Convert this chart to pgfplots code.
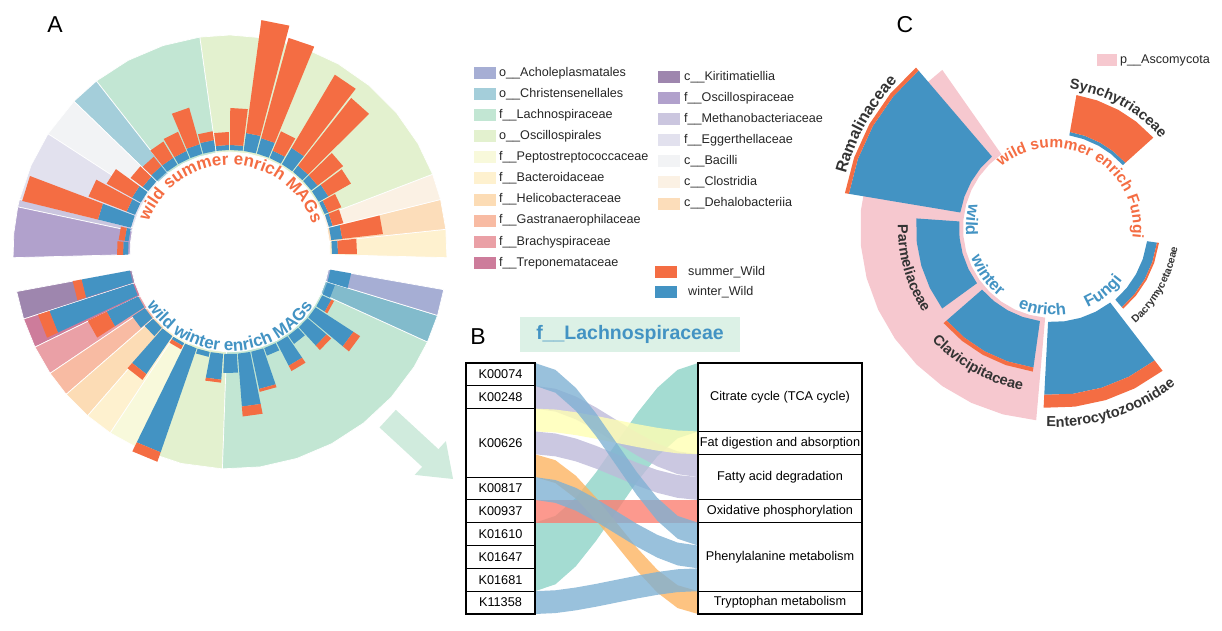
\documentclass[border=0pt]{standalone}
\usepackage{pgfplots}
\pgfplotsset{compat=1.18}
\usepackage{fontspec}
\setmainfont{Liberation Sans}
\usetikzlibrary{decorations.text}

\definecolor{sor}{HTML}{F46D43}
\definecolor{wbl}{HTML}{4393C3}
\definecolor{cAch}{HTML}{A6AED4}
\definecolor{cChr}{HTML}{A4CEDA}
\definecolor{cChrW}{HTML}{82BBCC}
\definecolor{cLac}{HTML}{C2E6D3}
\definecolor{cOsl}{HTML}{E3F1CF}
\definecolor{cPep}{HTML}{F8F9DB}
\definecolor{cBac}{HTML}{FEF1CF}
\definecolor{cHel}{HTML}{FCDCB5}
\definecolor{cGas}{HTML}{F8BBA3}
\definecolor{cBra}{HTML}{EAA0A6}
\definecolor{cTre}{HTML}{CD7C9B}
\definecolor{cKir}{HTML}{9E86AE}
\definecolor{cOsc}{HTML}{B1A1CC}
\definecolor{cMet}{HTML}{CBC6DF}
\definecolor{cEgg}{HTML}{E2E1EE}
\definecolor{cBci}{HTML}{F2F3F5}
\definecolor{cClo}{HTML}{FBF1E4}
\definecolor{cDeh}{HTML}{FCDDBA}
\definecolor{cAsc}{HTML}{F6C8CF}
\definecolor{dark}{HTML}{333333}
\definecolor{fBlue}{HTML}{80B1D3}
\definecolor{fLav}{HTML}{BEBADA}
\definecolor{fYel}{HTML}{FFFFB3}
\definecolor{fOra}{HTML}{FDB462}
\definecolor{fRed}{HTML}{FB8072}
\definecolor{fTeal}{HTML}{8DD3C7}
\definecolor{titlebg}{HTML}{DCF1E6}
\definecolor{arrowc}{HTML}{D0EBDD}

\newcommand\fs[1]{\fontsize{#1}{#1}\selectfont}
% curved label: cx, cy, radius, start angle, end angle, colour, size, text
\newcommand\arctext[8]{%
  \path[decorate, decoration={text along path, text align=center, text color=#6,
    text={|\fs{#7}\bfseries|#8}}] (#1,#2) ++(#4:#3) arc[start angle=#4, end angle=#5, radius=#3pt];}

\pgfplotsset{
  sec/.style={data cs=polar, fill=#1, draw=white, line width=0.7pt},
  bb/.style={data cs=polar, fill=wbl, draw=none},
  bo/.style={data cs=polar, fill=sor, draw=none},
  flow/.style={fill=#1, fill opacity=0.8, draw=none},
  box/.style={fill=white, draw=black, line width=1.1pt},
}

\begin{document}
\begin{tikzpicture}[x=1pt, y=1pt]
\useasboundingbox (0,0) rectangle (1222,631);

% ---------------- Panel A ----------------
\begin{axis}[hide axis, scale only axis, clip=false, anchor=center, at={(230pt,379pt)},
  xmin=-250, xmax=250, ymin=-250, ymax=250, width=500pt, height=500pt]
% summer sectors
\addplot[sec=cBac] coordinates {(-1.5,100)(-1.5,217)(6,217)(6,100)} -- cycle;
\addplot[sec=cDeh] coordinates {(6,100)(6,217)(14,217)(14,100)} -- cycle;
\addplot[sec=cClo] coordinates {(14,100)(14,217)(21,217)(21,100)} -- cycle;
\addplot[sec=cOsl] coordinates {(21,100)(21,217)(30,217)(40,217)(50,217)(60,217)(70,217)(80,217)(90,217)(98,217)(98,100)(90,100)(80,100)(70,100)(60,100)(50,100)(40,100)(30,100)} -- cycle;
\addplot[sec=cLac] coordinates {(98,100)(98,217)(108,217)(118,217)(128,217)(128,100)(118,100)(108,100)} -- cycle;
\addplot[sec=cChr] coordinates {(128,100)(128,217)(136,217)(136,100)} -- cycle;
\addplot[sec=cBci] coordinates {(136,100)(136,217)(147,217)(147,100)} -- cycle;
\addplot[sec=cEgg] coordinates {(147,100)(147,217)(156.5,217)(166,217)(166,100)(156.5,100)} -- cycle;
\addplot[sec=cMet] coordinates {(166,100)(166,217)(168,217)(168,100)} -- cycle;
\addplot[sec=cOsc] coordinates {(168,100)(168,217)(175,217)(181.5,217)(181.5,100)(175,100)} -- cycle;
% winter sectors
\addplot[sec=cKir] coordinates {(190.5,100)(190.5,217)(198,217)(198,100)} -- cycle;
\addplot[sec=cTre] coordinates {(198,100)(198,217)(206,217)(206,100)} -- cycle;
\addplot[sec=cBra] coordinates {(206,100)(206,217)(214,217)(214,100)} -- cycle;
\addplot[sec=cGas] coordinates {(214,100)(214,217)(221,217)(221,100)} -- cycle;
\addplot[sec=cHel] coordinates {(221,100)(221,217)(229,217)(229,100)} -- cycle;
\addplot[sec=cBac] coordinates {(229,100)(229,217)(236.5,217)(236.5,100)} -- cycle;
\addplot[sec=cPep] coordinates {(236.5,100)(236.5,217)(246,217)(246,100)} -- cycle;
\addplot[sec=cOsl] coordinates {(246,100)(246,217)(257,217)(268,217)(268,100)(257,100)} -- cycle;
\addplot[sec=cLac] coordinates {(268,100)(268,217)(278,217)(288,217)(298,217)(308,217)(318,217)(328,217)(335.5,217)(335.5,100)(328,100)(318,100)(308,100)(298,100)(288,100)(278,100)} -- cycle;
\addplot[sec=cChrW] coordinates {(335.5,100)(335.5,217)(343,217)(343,100)} -- cycle;
\addplot[sec=cAch] coordinates {(343,100)(343,217)(350,217)(350,100)} -- cycle;
% summer-enriched MAGs: winter part (blue) then summer part (orange)
\addplot[bb] coordinates {(174.5,102)(174.5,107)(181.5,107)(181.5,102)};
\addplot[bo] coordinates {(174.5,107)(174.5,113)(181.5,113)(181.5,107)};
\addplot[bb] coordinates {(166.9,102)(166.9,106)(173.9,106)(173.9,102)};
\addplot[bo] coordinates {(166.9,106)(166.9,112)(173.9,112)(173.9,106)};
\addplot[bb] coordinates {(159.2,102)(159.2,136)(166.2,136)(166.2,102)};
\addplot[bo] coordinates {(159.2,136)(159.2,214)(166.2,214)(166.2,136)};
\addplot[bb] coordinates {(151.6,102)(151.6,111)(158.6,111)(158.6,102)};
\addplot[bo] coordinates {(151.6,111)(151.6,152)(158.6,152)(158.6,111)};
\addplot[bb] coordinates {(144,102)(144,112)(151,112)(151,102)};
\addplot[bo] coordinates {(144,112)(144,141)(151,141)(151,112)};
\addplot[bb] coordinates {(136.3,102)(136.3,109)(143.3,109)(143.3,102)};
\addplot[bo] coordinates {(136.3,109)(136.3,124)(143.3,124)(143.3,109)};
\addplot[bb] coordinates {(128.7,102)(128.7,110)(135.7,110)(135.7,102)};
\addplot[bo] coordinates {(128.7,110)(128.7,122)(135.7,122)(135.7,110)};
\addplot[bb] coordinates {(121.1,102)(121.1,110)(128.1,110)(128.1,102)};
\addplot[bo] coordinates {(121.1,110)(121.1,129)(128.1,129)(128.1,110)};
\addplot[bb] coordinates {(113.4,102)(113.4,110)(120.4,110)(120.4,102)};
\addplot[bo] coordinates {(113.4,110)(113.4,131)(120.4,131)(120.4,110)};
\addplot[bb] coordinates {(105.8,102)(105.8,112)(112.8,112)(112.8,102)};
\addplot[bo] coordinates {(105.8,112)(105.8,150)(112.8,150)(112.8,112)};
\addplot[bb] coordinates {(98.2,102)(98.2,113)(105.2,113)(105.2,102)};
\addplot[bo] coordinates {(98.2,113)(98.2,122)(105.2,122)(105.2,113)};
\addplot[bb] coordinates {(90.6,102)(90.6,107)(97.6,107)(97.6,102)};
\addplot[bo] coordinates {(90.6,107)(90.6,120)(97.6,120)(97.6,107)};
\addplot[bb] coordinates {(82.9,102)(82.9,107)(89.9,107)(89.9,102)};
\addplot[bo] coordinates {(82.9,107)(82.9,144)(89.9,144)(89.9,107)};
\addplot[bb] coordinates {(75.3,102)(75.3,120)(82.3,120)(82.3,102)};
\addplot[bo] coordinates {(75.3,120)(75.3,234)(82.3,234)(82.3,120)};
\addplot[bb] coordinates {(67.7,102)(67.7,118)(74.7,118)(74.7,102)};
\addplot[bo] coordinates {(67.7,118)(67.7,222)(74.7,222)(74.7,118)};
\addplot[bb] coordinates {(60.1,102)(60.1,110)(67.1,110)(67.1,102)};
\addplot[bo] coordinates {(60.1,110)(60.1,131)(67.1,131)(67.1,110)};
\addplot[bb] coordinates {(52.4,102)(52.4,121)(59.4,121)(59.4,102)};
\addplot[bo] coordinates {(52.4,121)(52.4,206)(59.4,206)(59.4,121)};
\addplot[bb] coordinates {(44.8,102)(44.8,110)(51.8,110)(51.8,102)};
\addplot[bo] coordinates {(44.8,110)(44.8,196)(51.8,196)(51.8,110)};
\addplot[bb] coordinates {(37.2,102)(37.2,110)(44.2,110)(44.2,102)};
\addplot[bo] coordinates {(37.2,110)(37.2,142)(44.2,142)(44.2,110)};
\addplot[bb] coordinates {(29.5,102)(29.5,113)(36.5,113)(36.5,102)};
\addplot[bo] coordinates {(29.5,113)(29.5,139)(36.5,139)(36.5,113)};
\addplot[bb] coordinates {(21.9,102)(21.9,106)(28.9,106)(28.9,102)};
\addplot[bo] coordinates {(21.9,106)(21.9,120)(28.9,120)(28.9,106)};
\addplot[bb] coordinates {(14.3,102)(14.3,106)(21.3,106)(21.3,102)};
\addplot[bo] coordinates {(14.3,106)(14.3,117)(21.3,117)(21.3,106)};
\addplot[bb] coordinates {(6.7,102)(6.7,113)(13.7,113)(13.7,102)};
\addplot[bo] coordinates {(6.7,113)(6.7,154)(13.7,154)(13.7,113)};
\addplot[bb] coordinates {(-1,102)(-1,108)(6,108)(6,102)};
\addplot[bo] coordinates {(-1,108)(-1,127)(6,127)(6,108)};
% winter-enriched MAGs
\addplot[bb] coordinates {(190.5,102)(190.5,151)(197.5,151)(197.5,102)};
\addplot[bo] coordinates {(190.5,151)(190.5,160)(197.5,160)(197.5,151)};
\addplot[bb] coordinates {(198.1,102)(198.1,190)(205.1,190)(205.1,102)};
\addplot[bo] coordinates {(198.1,190)(198.1,202)(205.1,202)(205.1,190)};
\addplot[bb] coordinates {(205.8,102)(205.8,137)(212.8,137)(212.8,102)};
\addplot[bo] coordinates {(205.8,137)(205.8,158)(212.8,158)(212.8,137)};
\addplot[bb] coordinates {(213.4,102)(213.4,117)(220.4,117)(220.4,102)};
\addplot[bb] coordinates {(221,102)(221,113)(228,113)(228,102)};
\addplot[bb] coordinates {(228.6,102)(228.6,148)(235.6,148)(235.6,102)};
\addplot[bo] coordinates {(228.6,148)(228.6,155)(235.6,155)(235.6,148)};
\addplot[bb] coordinates {(236.3,102)(236.3,105)(243.3,105)(243.3,102)};
\addplot[bo] coordinates {(236.3,105)(236.3,109)(243.3,109)(243.3,105)};
\addplot[bb] coordinates {(243.9,102)(243.9,212)(250.9,212)(250.9,102)};
\addplot[bo] coordinates {(243.9,212)(243.9,222)(250.9,222)(250.9,212)};
\addplot[bb] coordinates {(251.5,102)(251.5,107)(258.5,107)(258.5,102)};
\addplot[bb] coordinates {(259.1,102)(259.1,128)(266.1,128)(266.1,102)};
\addplot[bo] coordinates {(259.1,128)(259.1,131)(266.1,131)(266.1,128)};
\addplot[bb] coordinates {(266.8,102)(266.8,121)(273.8,121)(273.8,102)};
\addplot[bb] coordinates {(274.4,102)(274.4,155)(281.4,155)(281.4,102)};
\addplot[bo] coordinates {(274.4,155)(274.4,165)(281.4,165)(281.4,155)};
\addplot[bb] coordinates {(282,102)(282,140)(289,140)(289,102)};
\addplot[bo] coordinates {(282,140)(282,143)(289,143)(289,140)};
\addplot[bb] coordinates {(289.6,102)(289.6,110)(296.6,110)(296.6,102)};
\addplot[bb] coordinates {(297.3,102)(297.3,128)(304.3,128)(304.3,102)};
\addplot[bo] coordinates {(297.3,128)(297.3,134)(304.3,134)(304.3,128)};
\addplot[bb] coordinates {(304.9,102)(304.9,112)(311.9,112)(311.9,102)};
\addplot[bb] coordinates {(312.5,102)(312.5,127)(319.5,127)(319.5,102)};
\addplot[bo] coordinates {(312.5,127)(312.5,133)(319.5,133)(319.5,127)};
\addplot[bb] coordinates {(320.1,102)(320.1,147)(327.1,147)(327.1,102)};
\addplot[bo] coordinates {(320.1,147)(320.1,155)(327.1,155)(327.1,147)};
\addplot[bb] coordinates {(327.8,102)(327.8,112)(334.8,112)(334.8,102)};
\addplot[bo] coordinates {(327.8,112)(327.8,115)(334.8,115)(334.8,112)};
\addplot[bb] coordinates {(335.4,102)(335.4,110)(342.4,110)(342.4,102)};
\addplot[bb] coordinates {(343,102)(343,123)(350,123)(350,102)};
\end{axis}

\arctext{230}{379}{87}{165}{13}{sor}{17}{wild summer enrich MAGs}
\arctext{230}{379}{99}{198}{342}{wbl}{17}{wild winter enrich MAGs}

% legend of panel A
\foreach \c/\t [count=\i from 0] in {cAch/o\_\_Acholeplasmatales, cChr/o\_\_Christensenellales,
  cLac/f\_\_Lachnospiraceae, cOsl/o\_\_Oscillospirales, cPep/f\_\_Peptostreptococcaceae,
  cBac/f\_\_Bacteroidaceae, cHel/f\_\_Helicobacteraceae, cGas/f\_\_Gastranaerophilaceae,
  cBra/f\_\_Brachyspiraceae, cTre/f\_\_Treponemataceae} {
  \fill[\c] (474,{631-73-21.1*\i-6}) rectangle (496,{631-73-21.1*\i+6});
  \node[anchor=west, inner sep=0pt, font=\fs{12.6}, text=black!85] at (499,{631-73-21.1*\i}) {\t};
}
\foreach \c/\t [count=\i from 0] in {cKir/c\_\_Kiritimatiellia, cOsc/f\_\_Oscillospiraceae,
  cMet/f\_\_Methanobacteriaceae, cEgg/f\_\_Eggerthellaceae, cBci/c\_\_Bacilli,
  cClo/c\_\_Clostridia, cDeh/c\_\_Dehalobacteriia} {
  \fill[\c] (658,{631-77-21.1*\i-6}) rectangle (680,{631-77-21.1*\i+6});
  \node[anchor=west, inner sep=0pt, font=\fs{12.6}, text=black!85] at (684,{631-77-21.1*\i}) {\t};
}
\fill[sor] (655,353) rectangle (677,365);
\node[anchor=west, inner sep=0pt, font=\fs{12.6}, text=black!85] at (688,359) {summer\_Wild};
\fill[wbl] (655,333) rectangle (677,345);
\node[anchor=west, inner sep=0pt, font=\fs{12.6}, text=black!85] at (688,339) {winter\_Wild};

% arrow from A to B
\begin{scope}[shift={(420,182.5)}, rotate=-42.7]
\fill[arrowc] (-44,-12) -- (14,-12) -- (14,-23) -- (45,0) -- (14,23) -- (14,12) -- (-44,12) -- cycle;
\end{scope}

% panel letters
\node[font=\fs{23}] at (55,606) {A};
\node[font=\fs{23}] at (478,294) {B};
\node[font=\fs{23}] at (905,606) {C};

% ---------------- Panel B ----------------
\fill[titlebg] (520,279) rectangle (740,314);
\node[font=\fs{19.5}\bfseries, text=wbl] at (630,296.5) {f\_\_Lachnospiraceae};

\begin{axis}[hide axis, scale only axis, clip=false, anchor=south west, at={(466pt,17pt)},
  xmin=466, xmax=862, ymin=0, ymax=11, y dir=reverse, width=396pt, height=251pt]
% ribbons: K01610, K01647, K01681 -> TCA
\addplot[flow=fTeal] coordinates {(535,7)(555.4,6.70)(575.8,5.91)(596.1,4.79)(616.5,3.5)(636.9,2.21)(657.3,1.09)(677.6,0.30)(698,0)(698,3)(677.6,3.30)(657.3,4.09)(636.9,5.21)(616.5,6.5)(596.1,7.79)(575.8,8.91)(555.4,9.70)(535,10)} -- cycle;
% K00248 -> fatty acid degradation
\addplot[flow=fLav] coordinates {(535,1)(555.4,1.13)(575.8,1.47)(596.1,1.95)(616.5,2.5)(636.9,3.05)(657.3,3.53)(677.6,3.87)(698,4)(698,5)(677.6,4.87)(657.3,4.53)(636.9,4.05)(616.5,3.5)(596.1,2.95)(575.8,2.47)(555.4,2.13)(535,2)} -- cycle;
% K00626 -> fat digestion
\addplot[flow=fYel] coordinates {(535,2)(555.4,2.04)(575.8,2.16)(596.1,2.32)(616.5,2.5)(636.9,2.68)(657.3,2.84)(677.6,2.96)(698,3)(698,4)(677.6,3.96)(657.3,3.84)(636.9,3.68)(616.5,3.5)(596.1,3.32)(575.8,3.16)(555.4,3.04)(535,3)} -- cycle;
% K00626 -> fatty acid degradation
\addplot[flow=fLav] coordinates {(535,3)(555.4,3.09)(575.8,3.31)(596.1,3.63)(616.5,4)(636.9,4.37)(657.3,4.69)(677.6,4.91)(698,5)(698,6)(677.6,5.91)(657.3,5.69)(636.9,5.37)(616.5,5)(596.1,4.63)(575.8,4.31)(555.4,4.09)(535,4)} -- cycle;
% K00937 -> oxidative phosphorylation
\addplot[flow=fRed] coordinates {(535,6)(698,6)(698,7)(535,7)} -- cycle;
% K00626 -> tryptophan
\addplot[flow=fOra] coordinates {(535,4)(555.4,4.26)(575.8,4.94)(596.1,5.90)(616.5,7)(636.9,8.10)(657.3,9.06)(677.6,9.74)(698,10)(698,11)(677.6,10.74)(657.3,10.06)(636.9,9.10)(616.5,8)(596.1,6.90)(575.8,5.94)(555.4,5.26)(535,5)} -- cycle;
% K00817 -> phenylalanine
\addplot[flow=fBlue] coordinates {(535,5)(555.4,5.13)(575.8,5.47)(596.1,5.95)(616.5,6.5)(636.9,7.05)(657.3,7.53)(677.6,7.87)(698,8)(698,9)(677.6,8.87)(657.3,8.53)(636.9,8.05)(616.5,7.5)(596.1,6.95)(575.8,6.47)(555.4,6.13)(535,6)} -- cycle;
% K11358 -> phenylalanine
\addplot[flow=fBlue] coordinates {(535,10)(555.4,9.96)(575.8,9.84)(596.1,9.68)(616.5,9.5)(636.9,9.32)(657.3,9.16)(677.6,9.04)(698,9)(698,10)(677.6,10.04)(657.3,10.16)(636.9,10.32)(616.5,10.5)(596.1,10.68)(575.8,10.84)(555.4,10.96)(535,11)} -- cycle;
% K00074 -> phenylalanine
\addplot[flow=fBlue] coordinates {(535,0)(555.4,0.30)(575.8,1.09)(596.1,2.21)(616.5,3.5)(636.9,4.79)(657.3,5.91)(677.6,6.70)(698,7)(698,8)(677.6,7.70)(657.3,6.91)(636.9,5.79)(616.5,4.5)(596.1,3.21)(575.8,2.09)(555.4,1.30)(535,1)} -- cycle;
% left boxes
\addplot[box] coordinates {(466,0)(535,0)(535,1)(466,1)} -- cycle;
\addplot[box] coordinates {(466,1)(535,1)(535,2)(466,2)} -- cycle;
\addplot[box] coordinates {(466,2)(535,2)(535,5)(466,5)} -- cycle;
\addplot[box] coordinates {(466,5)(535,5)(535,6)(466,6)} -- cycle;
\addplot[box] coordinates {(466,6)(535,6)(535,7)(466,7)} -- cycle;
\addplot[box] coordinates {(466,7)(535,7)(535,8)(466,8)} -- cycle;
\addplot[box] coordinates {(466,8)(535,8)(535,9)(466,9)} -- cycle;
\addplot[box] coordinates {(466,9)(535,9)(535,10)(466,10)} -- cycle;
\addplot[box] coordinates {(466,10)(535,10)(535,11)(466,11)} -- cycle;
% right boxes
\addplot[box] coordinates {(698,0)(862,0)(862,3)(698,3)} -- cycle;
\addplot[box] coordinates {(698,3)(862,3)(862,4)(698,4)} -- cycle;
\addplot[box] coordinates {(698,4)(862,4)(862,6)(698,6)} -- cycle;
\addplot[box] coordinates {(698,6)(862,6)(862,7)(698,7)} -- cycle;
\addplot[box] coordinates {(698,7)(862,7)(862,10)(698,10)} -- cycle;
\addplot[box] coordinates {(698,10)(862,10)(862,11)(698,11)} -- cycle;
\node[font=\fs{12.7}] at (axis cs:500.5,0.5) {K00074};
\node[font=\fs{12.7}] at (axis cs:500.5,1.5) {K00248};
\node[font=\fs{12.7}] at (axis cs:500.5,3.5) {K00626};
\node[font=\fs{12.7}] at (axis cs:500.5,5.5) {K00817};
\node[font=\fs{12.7}] at (axis cs:500.5,6.5) {K00937};
\node[font=\fs{12.7}] at (axis cs:500.5,7.5) {K01610};
\node[font=\fs{12.7}] at (axis cs:500.5,8.5) {K01647};
\node[font=\fs{12.7}] at (axis cs:500.5,9.5) {K01681};
\node[font=\fs{12.7}] at (axis cs:500.5,10.5) {K11358};
\node[font=\fs{12.7}] at (axis cs:780,1.5) {Citrate cycle (TCA cycle)};
\node[font=\fs{12.7}] at (axis cs:780,3.5) {Fat digestion and absorption};
\node[font=\fs{12.7}] at (axis cs:780,5) {Fatty acid degradation};
\node[font=\fs{12.7}] at (axis cs:780,6.5) {Oxidative phosphorylation};
\node[font=\fs{12.7}] at (axis cs:780,8.5) {Phenylalanine metabolism};
\node[font=\fs{12.7}] at (axis cs:780,10.5) {Tryptophan metabolism};
\end{axis}

% ---------------- Panel C ----------------
\begin{axis}[hide axis, scale only axis, clip=false, anchor=center, at={(1053pt,403pt)},
  xmin=-230, xmax=230, ymin=-230, ymax=230, width=460pt, height=460pt]
% p__Ascomycota background
\addplot[data cs=polar, fill=cAsc, draw=none] coordinates {(125,90)(125,193)(135,193)(145,193)(155,193)(165,193)(175,193)(185,193)(195,193)(205,193)(215,193)(225,193)(235,193)(245,193)(255,193)(265,193)(265,90)(255,90)(245,90)(235,90)(225,90)(215,90)(205,90)(195,90)(185,90)(175,90)(165,90)(155,90)(145,90)(135,90)} -- cycle;
% Ramalinaceae
\addplot[bb] coordinates {(130.5,94)(130.5,207)(140.5,207)(150.5,207)(160.5,207)(170.5,207)(170.5,94)(160.5,94)(150.5,94)(140.5,94)} -- cycle;
\addplot[bo] coordinates {(130.5,207)(130.5,211)(140.5,211)(150.5,211)(160.5,211)(170.5,211)(170.5,207)(160.5,207)(150.5,207)(140.5,207)} -- cycle;
% Parmeliaceae
\addplot[bb] coordinates {(176,94)(176,137)(186,137)(196,137)(206,137)(216,137)(216,94)(206,94)(196,94)(186,94)} -- cycle;
% Clavicipitaceae
\addplot[bb] coordinates {(221,94)(221,141)(231,141)(241,141)(251,141)(262,141)(262,94)(251,94)(241,94)(231,94)} -- cycle;
\addplot[bo] coordinates {(221,141)(221,145)(231,145)(241,145)(251,145)(262,145)(262,141)(251,141)(241,141)(231,141)} -- cycle;
% Enterocytozoonidae
\addplot[bb] coordinates {(267,94)(267,167)(277,167)(287,167)(297,167)(307.5,167)(307.5,94)(297,94)(287,94)(277,94)} -- cycle;
\addplot[bo] coordinates {(267,167)(267,180)(277,180)(287,180)(297,180)(307.5,180)(307.5,167)(297,167)(287,167)(277,167)} -- cycle;
% Dacrymycetaceae
\addplot[bb] coordinates {(311,95)(311,105)(321,105)(331,105)(341,105)(352,105)(352,95)(341,95)(331,95)(321,95)} -- cycle;
\addplot[bo] coordinates {(311,105)(311,107)(321,107)(331,107)(341,107)(352,107)(352,105)(341,105)(331,105)(321,105)} -- cycle;
% Synchytriaceae
\addplot[bb] coordinates {(42,94)(42,97.5)(52,97.5)(61,97.5)(71,97.5)(80,97.5)(80,94)(71,94)(61,94)(52,94)} -- cycle;
\addplot[bo] coordinates {(42,97.5)(42,135)(52,135)(61,135)(71,135)(80,135)(80,97.5)(71,97.5)(61,97.5)(52,97.5)} -- cycle;
\end{axis}

\arctext{1053}{403}{80}{135}{-12}{sor}{15.5}{wild summer enrich Fungi}
\path[decorate, decoration={text along path, text align={fit to path stretching spaces}, text color=wbl,
  text={|\fs{16.5}\bfseries|wild winter enrich Fungi}}]
  (1053,403) ++(164:87) arc[start angle=164, end angle=323, radius=87pt];
\arctext{1053}{403}{214}{176}{126}{dark}{16}{Ramalinaceae}
\arctext{1053}{403}{140}{92}{31}{dark}{14.5}{Synchytriaceae}
\arctext{1053}{403}{126}{300}{362}{dark}{10.5}{Dacrymycetaceae}
\arctext{1053}{403}{199}{258}{318}{dark}{14.5}{Enterocytozoonidae}
\arctext{1053}{403}{165}{213}{269}{dark}{14.5}{Clavicipitaceae}
\arctext{1053}{403}{155}{168}{224}{dark}{14.5}{Parmeliaceae}

\fill[cAsc] (1097,565) rectangle (1117,577);
\node[anchor=west, inner sep=0pt, font=\fs{12.6}, text=black!85] at (1120,571) {p\_\_Ascomycota};
\end{tikzpicture}
\end{document}
